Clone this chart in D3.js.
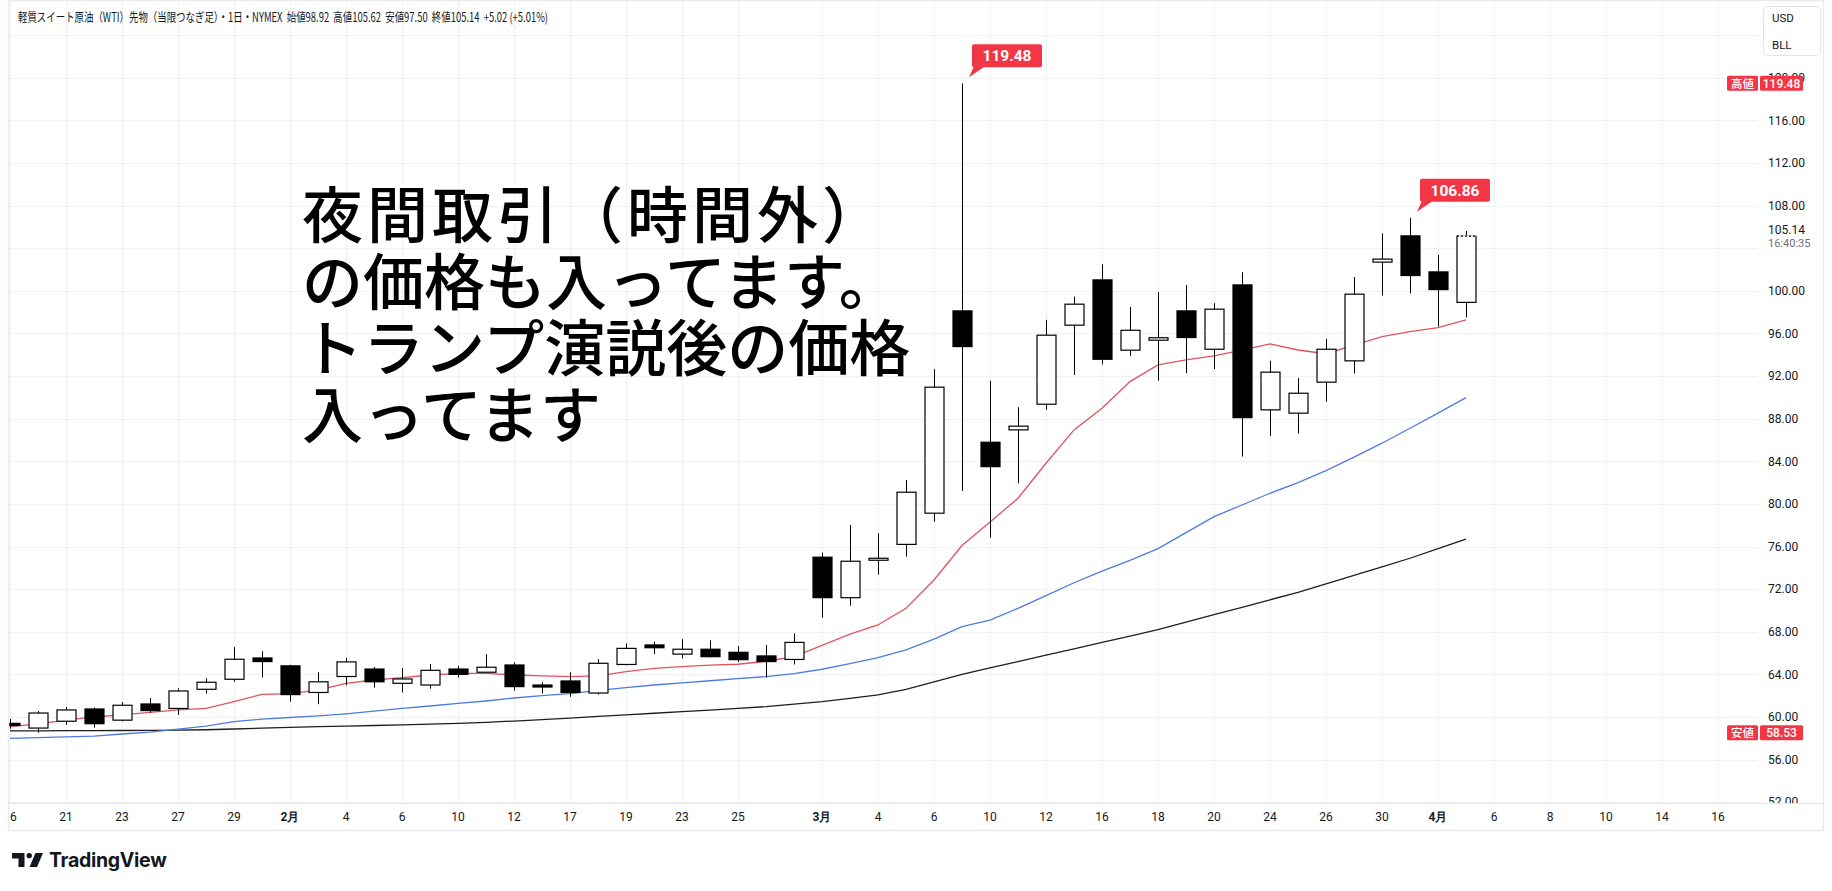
<!DOCTYPE html>
<html><head><meta charset="utf-8">
<script src="https://cdn.jsdelivr.net/npm/d3@7"></script>
<style>
html,body{margin:0;padding:0;background:#fff;}
svg{display:block;}
</style></head>
<body>
<svg id="chart" width="1832" height="891"></svg>
<script>
// ---------------- data ----------------
const dates = ["1/16","1/20","1/21","1/22","1/23","1/26","1/27","1/28","1/29","1/30",
  "2/2","2/3","2/4","2/5","2/6","2/9","2/10","2/11","2/12","2/13","2/17","2/18","2/19","2/20",
  "2/23","2/24","2/25","2/26","2/27","3/2","3/3","3/4","3/5","3/6","3/9","3/10","3/11","3/12","3/13",
  "3/16","3/17","3/18","3/19","3/20","3/23","3/24","3/25","3/26","3/27","3/30","3/31","4/1","4/2"];
const openV  = [59.4,58.96,59.6,60.75,59.7,61.22,60.8,62.6,63.54,65.54,
  64.8,62.3,63.8,64.5,63.16,63.0,64.5,64.2,64.88,63.0,63.38,62.25,64.93,66.76,
  65.9,66.36,66.07,65.73,65.4,75.0,71.2,74.8,76.2,79.13,98.12,85.79,86.95,89.36,96.78,
  101.03,94.43,95.37,98.12,94.52,100.56,88.83,88.52,91.43,93.43,102.7,105.16,101.78,98.92];
const highV  = [59.8,60.56,60.94,60.9,61.4,61.78,62.7,63.63,66.55,66.17,
  64.9,64.2,65.54,64.7,64.6,64.98,64.8,65.9,65.13,63.26,64.2,65.44,66.9,67.07,
  67.3,67.2,66.67,66.76,67.85,75.43,78.03,77.25,82.25,92.65,119.48,91.55,89.08,97.28,99.47,
  102.5,98.5,99.88,100.56,98.84,101.75,93.43,91.83,95.5,101.3,105.4,106.86,103.38,105.62];
const lowV   = [58.9,58.53,59.25,59.0,59.6,60.4,60.2,62.2,63.3,63.7,
  61.44,61.2,62.95,62.75,62.3,62.66,63.7,64.2,62.47,62.2,61.9,62.1,64.85,65.9,
  65.5,65.6,65.16,63.7,64.93,69.33,70.45,73.36,75.05,78.34,81.22,76.84,81.94,88.83,92.1,
  93.1,93.9,91.58,92.27,92.65,84.44,86.4,86.6,89.6,92.24,99.56,99.75,96.65,97.5];
const closeV = [59.2,60.37,60.66,59.37,61.1,60.6,62.44,63.26,65.42,65.2,
  62.1,63.3,65.17,63.3,63.57,64.38,64.0,64.67,62.85,62.85,62.3,65.04,66.44,66.5,
  66.36,65.66,65.38,65.2,67.0,71.2,74.62,74.9,81.1,90.96,94.77,83.5,87.3,95.84,98.75,
  93.58,96.3,95.6,95.62,98.28,88.1,92.37,90.39,94.52,99.69,102.98,101.44,100.12,105.14];
const maShort = [59.1,59.35,59.7,60.0,60.2,60.44,60.66,60.8,61.44,62.13,
  62.2,62.53,63.15,63.47,63.7,63.94,64.1,64.1,63.94,63.85,63.79,63.85,64.26,64.57,
  64.73,64.86,64.95,65.23,65.66,66.73,67.77,68.64,70.2,72.86,76.1,78.3,80.53,83.82,86.95,
  88.98,91.48,93.05,93.52,93.9,94.43,95.02,94.45,94.1,94.9,95.71,96.18,96.55,97.28];
const maMid = [58.0,58.07,58.13,58.2,58.4,58.58,58.85,59.15,59.56,59.8,
  59.95,60.1,60.3,60.55,60.8,61.03,61.27,61.5,61.78,62.0,62.2,62.5,62.75,63.0,
  63.2,63.4,63.6,63.79,64.07,64.48,65.0,65.57,66.3,67.3,68.48,69.1,70.2,71.4,72.6,
  73.7,74.7,75.8,77.3,78.8,79.9,81.0,82.0,83.13,84.4,85.7,87.1,88.52,89.98];
const maLong = [58.69,58.7,58.71,58.72,58.73,58.75,58.77,58.8,58.87,58.95,
  59.02,59.1,59.15,59.2,59.25,59.32,59.4,59.5,59.62,59.75,59.9,60.05,60.2,60.35,
  60.5,60.65,60.8,60.97,61.2,61.44,61.75,62.07,62.6,63.3,64.0,64.6,65.2,65.8,66.4,
  67.0,67.6,68.2,68.9,69.6,70.3,71.0,71.7,72.5,73.3,74.1,74.9,75.8,76.7];
const priceTicks = [52,56,60,64,68,72,76,80,84,88,92,96,100,104,108,112,116,120,124];
const priceLabelTicks = [52,56,60,64,68,72,76,80,84,88,92,96,100,108,112,116,120];
const xTickPos = [-2,0,2,4,6,8,10,12,14,16,18,20,22,24,27,29,31,33,35,37,39,41,43,45,47,49,51,53,55,57,59];
const xTickLabels = ["16","21","23","27","29","2月","4","6","10","12","17","19","23","25","3月","4","6","10","12","16","18","20","24","26","30","4月","6","8","10","14","16"];
const calloutDates = ["3/9","3/31"];
const headerText = "軽質スイート原油（WTI）先物（当限つなぎ足）・1日・NYMEX  始値98.92  高値105.62  安値97.50  終値105.14  +5.02 (+5.01%)";
const noteLines = ["夜間取引（時間外）","の価格も入ってます。","トランプ演説後の価格","入ってます"];
const noteSpacing = [4, 0, 0, 0];
const lastPrice = 105.14, lastTime = "16:40:35";
const currencyLabels = ["USD","BLL"];

// ---------------- layout ----------------
const svg = d3.select("#chart");
const plotL = 9, plotR = 1758, plotB = 803;
const x = d3.scaleLinear().domain([0, 50]).range([66, 1466]);
const y = d3.scaleLinear().domain([52, 124]).range([802.2, 35.2]);
const idxOf = i => i - 2;
const bodyW = 20;

svg.append("rect").attr("width",1832).attr("height",891).attr("fill","#fff");

const defs = svg.append("defs");
defs.append("clipPath").attr("id","plotClip").append("rect")
  .attr("x",plotL).attr("y",0).attr("width",plotR-plotL).attr("height",plotB);
defs.append("clipPath").attr("id","axisClip").append("rect")
  .attr("x",plotR).attr("y",0).attr("width",1832-plotR).attr("height",plotB);
defs.append("clipPath").attr("id","xaxisClip").append("rect")
  .attr("x",plotL).attr("y",plotB).attr("width",plotR-plotL).attr("height",30);

// grid
const grid = svg.append("g").attr("clip-path","url(#plotClip)");
grid.selectAll("line.h").data(priceTicks).join("line")
  .attr("x1",plotL).attr("x2",plotR)
  .attr("y1",d=>Math.round(y(d))+0.5).attr("y2",d=>Math.round(y(d))+0.5)
  .attr("stroke","#f0f1f4").attr("stroke-width",1);
grid.selectAll("line.v").data(xTickPos).join("line")
  .attr("x1",d=>Math.round(x(d))+0.5).attr("x2",d=>Math.round(x(d))+0.5)
  .attr("y1",0).attr("y2",plotB)
  .attr("stroke","#f0f1f4").attr("stroke-width",1);

// annotation text
const note = svg.append("g");
note.selectAll("text").data(noteLines).join("text")
  .attr("x",302).attr("y",(d,i)=>238 + i*66.5)
  .attr("letter-spacing",(d,i)=>noteSpacing[i])
  .attr("font-family","'Noto Sans CJK JP'").attr("font-size",61).attr("font-weight",500)
  .attr("fill","#000").text(d=>d);

// moving averages
const plot = svg.append("g").attr("clip-path","url(#plotClip)");
const lineGen = d3.line().x((d,i)=>x(idxOf(i))).y(d=>y(d));
[[maLong,"#1e1e1e"],[maMid,"#4f7be0"],[maShort,"#e2535d"]].forEach(([arr,col])=>{
  plot.append("path").datum(arr).attr("d",lineGen)
    .attr("fill","none").attr("stroke",col).attr("stroke-width",1.3);
});

// candles
const candles = plot.selectAll("g.c").data(dates).join("g");
candles.append("line")
  .attr("x1",(d,i)=>Math.round(x(idxOf(i)))+0.5).attr("x2",(d,i)=>Math.round(x(idxOf(i)))+0.5)
  .attr("y1",(d,i)=>y(highV[i])).attr("y2",(d,i)=>y(lowV[i]))
  .attr("stroke","#000").attr("stroke-width",1);
candles.append("rect")
  .attr("x",(d,i)=>Math.round(x(idxOf(i)))-bodyW/2+1)
  .attr("y",(d,i)=>y(Math.max(openV[i],closeV[i])))
  .attr("width",bodyW-1)
  .attr("height",(d,i)=>Math.max(2,Math.abs(y(openV[i])-y(closeV[i]))))
  .attr("fill",(d,i)=>closeV[i]>=openV[i]?"#fff":"#000")
  .attr("stroke","#000").attr("stroke-width",1.2);
// last candle: dotted top edge (current price)
{
  const i = dates.length-1, cx = Math.round(x(idxOf(i)));
  plot.append("line").attr("x1",cx-bodyW/2+1.6).attr("x2",cx+bodyW/2-0.6)
    .attr("y1",y(closeV[i])).attr("y2",y(closeV[i]))
    .attr("stroke","#fff").attr("stroke-width",1.6);
  plot.append("line").attr("x1",cx-bodyW/2+1).attr("x2",cx+bodyW/2)
    .attr("y1",y(closeV[i])).attr("y2",y(closeV[i]))
    .attr("stroke","#000").attr("stroke-width",1.2).attr("stroke-dasharray","2 2");
}

// callouts
calloutDates.forEach(dt=>{
  const i = dates.indexOf(dt);
  const cx = Math.round(x(idxOf(i))), yt = y(highV[i]);
  const bx = cx+10, bw = 70, bh = 23, by = yt-39;
  const g = svg.append("g");
  g.append("path").attr("d",`M${cx+12},${by+bh-1} L${cx+23},${by+bh-1} L${cx+7},${yt-6} Z`).attr("fill","#f23645");
  g.append("rect").attr("x",bx).attr("y",by).attr("width",bw).attr("height",bh).attr("rx",2).attr("fill","#f23645");
  g.append("text").attr("x",bx+bw/2).attr("y",by+bh/2+5.5).attr("text-anchor","middle")
    .attr("font-family","Roboto").attr("font-weight",700).attr("font-size",15.5).attr("fill","#fff")
    .text(highV[i].toFixed(2));
});

// frame
svg.append("rect").attr("x",8.5).attr("y",0.5).attr("width",1815).attr("height",830)
  .attr("fill","none").attr("stroke","#e9eaee").attr("stroke-width",1.5);
svg.append("line").attr("x1",9).attr("x2",1824).attr("y1",plotB+0.5).attr("y2",plotB+0.5)
  .attr("stroke","#e9eaee").attr("stroke-width",1.5);

// price axis labels
const pax = svg.append("g").attr("clip-path","url(#axisClip)");
pax.selectAll("text").data(priceLabelTicks).join("text")
  .attr("x",1768).attr("y",d=>y(d)+4.2)
  .attr("font-family","Roboto").attr("font-size",12).attr("fill","#131722")
  .text(d=>d.toFixed(2));
pax.append("text").attr("x",1768).attr("y",y(lastPrice)-2.5)
  .attr("font-family","Roboto").attr("font-size",12).attr("fill","#131722").text(lastPrice.toFixed(2));
pax.append("text").attr("x",1768).attr("y",y(lastPrice)+11)
  .attr("font-family","Roboto").attr("font-size",11).attr("fill","#6a6d78").text(lastTime);

// high / low badges
const hiVal = d3.max(highV), loVal = d3.min(lowV);
[["高値",hiVal],["安値",loVal]].forEach(([lab,v])=>{
  const cy = y(v);
  svg.append("rect").attr("x",1727).attr("y",cy-7.5).attr("width",31).attr("height",15).attr("rx",1.5).attr("fill","#f23645");
  svg.append("rect").attr("x",1760).attr("y",cy-7.5).attr("width",43).attr("height",15).attr("rx",1.5).attr("fill","#f23645");
  svg.append("text").attr("x",1742.5).attr("y",cy+4.3).attr("text-anchor","middle")
    .attr("font-family","'Noto Sans CJK JP'").attr("font-size",11.5).attr("font-weight",500).attr("fill","#fff").text(lab);
  svg.append("text").attr("x",1781.5).attr("y",cy+4.3).attr("text-anchor","middle")
    .attr("font-family","Roboto").attr("font-size",12).attr("font-weight",500).attr("fill","#fff").text(v.toFixed(2));
});

// currency box
svg.append("rect").attr("x",1763.5).attr("y",6.5).attr("width",57).attr("height",49).attr("rx",4)
  .attr("fill","#fff").attr("stroke","#e3e5ea");
svg.selectAll("text.cur").data(currencyLabels).join("text")
  .attr("x",1772).attr("y",(d,i)=>22+i*26.5)
  .attr("font-family","Roboto").attr("font-size",11.5).attr("fill","#131722").text(d=>d);

// x axis labels
const xax = svg.append("g").attr("clip-path","url(#xaxisClip)");
xax.selectAll("text").data(xTickPos).join("text")
  .attr("x",d=>x(d)).attr("y",821).attr("text-anchor","middle")
  .attr("font-family","Roboto").attr("font-size",12)
  .attr("font-weight",(d,i)=>/月/.test(xTickLabels[i])?700:400)
  .attr("fill","#131722").text((d,i)=>xTickLabels[i]);

// header
svg.append("text").attr("x",18).attr("y",22)
  .attr("font-family","'Noto Sans CJK JP'").attr("font-size",12.5).attr("fill","#131722")
  .attr("textLength",530).attr("lengthAdjust","spacingAndGlyphs")
  .style("white-space","pre").text(headerText);

// TradingView logo
const logo = svg.append("g").attr("fill","#131722");
logo.append("path").attr("d","M12,853 H24.5 V867 H18.5 V858.5 H12 Z");
logo.append("circle").attr("cx",29.2).attr("cy",855.6).attr("r",2.7);
logo.append("path").attr("d","M35.5,853 H43 L37,867 H29.5 Z");
logo.append("text").attr("x",49).attr("y",866.5)
  .attr("font-family","Inter").attr("font-weight",700).attr("font-size",19.5).attr("letter-spacing",-0.3)
  .text("TradingView");
</script>
</body></html>
